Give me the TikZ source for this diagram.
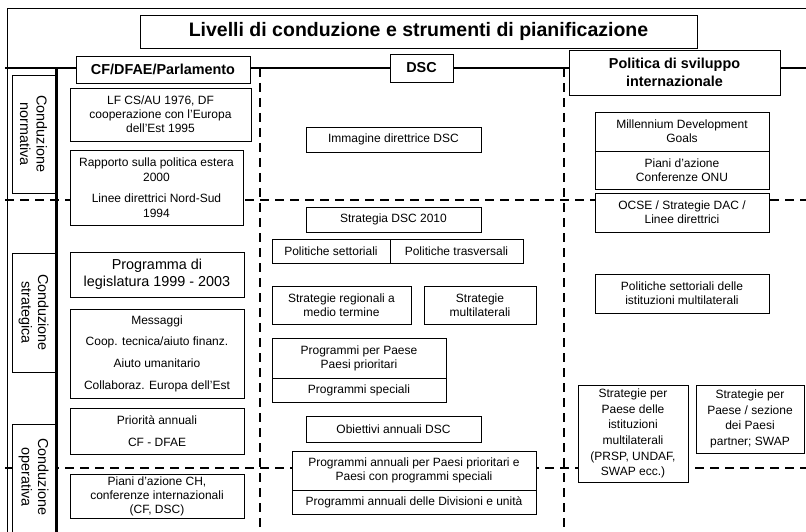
\documentclass[tikz,border=0pt]{standalone}
\usepackage{fontspec}
\setmainfont{Liberation Sans}

\begin{document}
\begin{tikzpicture}[x=1pt,y=-1pt,
 box/.style={draw,line width=.8pt,fill=white,inner sep=0pt,align=center,font=\fontsize{12}{14}\selectfont},
 head/.style={box,font=\bfseries\fontsize{14.4}{18}\selectfont},
 level/.style={box,rotate=-90,font=\fontsize{14.4}{16.5}\selectfont},
 bar/.style={line width=2.6pt},
 cut/.style={line width=2.6pt,dash pattern=on 9pt off 6pt}]
 \path[use as bounding box] (0,0) rectangle (806,532);
 % frame and level lines
 \draw[line width=.8pt] (806,8)--(7,8)--(7,540);
 \draw[bar] (5,68)--(806,68);
 \draw[bar] (56.5,68)--(56.5,540);
 \draw[cut] (5,200)--(806,200);
 \draw[cut] (5,468)--(806,468);
 \draw[cut] (260,68)--(260,540);
 \draw[cut] (564,68)--(564,540);
 % title and column heads
 \node[box,font=\bfseries\fontsize{19.5}{22}\selectfont,minimum width=557,minimum height=33] (titolo) at (418.5,31.5) {Livelli di conduzione e strumenti di pianificazione};
 \node[head,minimum width=174,minimum height=27] (cf) at (163,69.5) {CF/DFAE/Parlamento};
 \node[head,minimum width=63,minimum height=28] (dsc) at (421.5,68) {DSC};
 \node[head,minimum width=211,minimum height=45] (psi) at (674.5,72.5) {Politica di sviluppo\\internazionale};
 % levels
 \node[level,minimum width=118,minimum height=43] (normativa) at (33.5,134) {Conduzione\\normativa};
 \node[level,minimum width=119,minimum height=43] (strategica) at (33.5,312.5) {Conduzione\\strategica};
 \draw[line width=.8pt,fill=white] (12,540)|-(55,424)--(55,540);
 \node[level,draw=none,fill=none] (operativa) at (33.5,477) {Conduzione\\operativa};
 % CF/DFAE/Parlamento
 \node[box,minimum width=181,minimum height=53] (lf) at (160.5,114.5) {LF CS/AU 1976, DF\\cooperazione con l'Europa\\dell'Est 1995};
 \node[box,font=\fontsize{12}{15}\selectfont,minimum width=173,minimum height=75] (rapporto) at (156.5,187.5) {Rapporto sulla politica estera\\2000\\[6pt]Linee direttrici Nord-Sud\\1994};
 \node[box,font=\fontsize{14.4}{17.5}\selectfont,minimum width=174,minimum height=45] (legislatura) at (157,274.5) {Programma di\\legislatura 1999 - 2003};
 \node[box,font=\fontsize{12}{21.7}\selectfont,minimum width=174,minimum height=89] (messaggi) at (157,353.5) {Messaggi\\Coop. tecnica/aiuto finanz.\\Aiuto umanitario\\Collaboraz. Europa dell'Est};
 \node[box,font=\fontsize{12}{21.7}\selectfont,minimum width=174,minimum height=46] (priorita) at (157,431) {Priorità annuali\\CF - DFAE};
 \node[box,minimum width=174,minimum height=44] (pianich) at (157,496) {Piani d'azione CH,\\conferenze internazionali\\(CF, DSC)};
 % DSC
 \node[box,minimum width=175,minimum height=25] (immagine) at (393.5,139.5) {Immagine direttrice DSC};
 \node[box,minimum width=175,minimum height=25] (strategia) at (393.5,219.5) {Strategia DSC 2010};
 \node[box,minimum width=118,minimum height=24] (polset) at (331,251) {Politiche settoriali};
 \node[box,minimum width=133,minimum height=24] (poltras) at (456.5,251) {Politiche trasversali};
 \node[box,minimum width=139,minimum height=38] (strreg) at (341.5,305) {Strategie regionali a\\medio termine};
 \node[box,minimum width=112,minimum height=38] (strmul) at (480,305) {Strategie\\multilaterali};
 \node[box,minimum width=174,minimum height=40] (progpaese) at (359,358) {Programmi per Paese\\Paesi prioritari};
 \node[box,minimum width=174,minimum height=24] (progspec) at (359,390) {Programmi speciali};
 \node[box,minimum width=175,minimum height=26] (obiettivi) at (393.5,429) {Obiettivi annuali DSC};
 \node[box,minimum width=244,minimum height=39] (progann) at (414,470.5) {Programmi annuali per Paesi prioritari e\\Paesi con programmi speciali};
 \node[box,minimum width=244,minimum height=24] (progdiv) at (414,502) {Programmi annuali delle Divisioni e unità};
 % Politica di sviluppo internazionale
 \node[box,minimum width=174,minimum height=39] (mdg) at (682,131.5) {Millennium Development\\Goals};
 \node[box,minimum width=174,minimum height=38] (onu) at (682,170) {Piani d'azione\\Conferenze ONU};
 \node[box,minimum width=174,minimum height=39] (ocse) at (682,212.5) {OCSE / Strategie DAC /\\Linee direttrici};
 \node[box,minimum width=174,minimum height=39] (polmult) at (682,293.5) {Politiche settoriali delle\\istituzioni multilaterali};
 \node[box,font=\fontsize{12}{15.6}\selectfont,minimum width=110,minimum height=97] (strpaese) at (633,433.5) {Strategie per\\Paese delle\\istituzioni\\multilaterali\\(PRSP, UNDAF,\\SWAP ecc.)};
 \node[box,font=\fontsize{12}{15.6}\selectfont,minimum width=108,minimum height=68] (strpartner) at (750,419) {Strategie per\\Paese / sezione\\dei Paesi\\partner; SWAP};
\end{tikzpicture}
\end{document}
